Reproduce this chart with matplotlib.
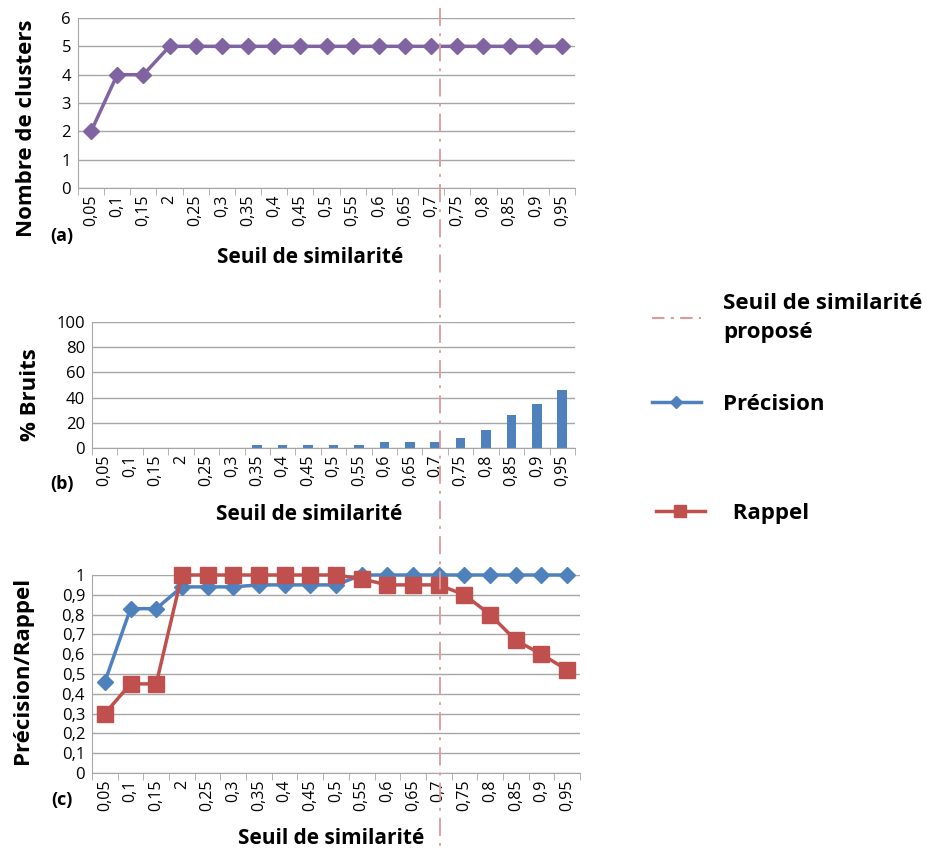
import numpy as np
import matplotlib
matplotlib.use("Agg")
import matplotlib.pyplot as plt
from matplotlib.lines import Line2D

plt.rcParams["font.family"] = ["Open Sans", "DejaVu Sans"]

# ---- données ----
seuils = ["0,05", "0,1", "0,15", "2", "0,25", "0,3", "0,35", "0,4", "0,45", "0,5",
          "0,55", "0,6", "0,65", "0,7", "0,75", "0,8", "0,85", "0,9", "0,95"]
nb_clusters = [2, 4, 4, 5, 5, 5, 5, 5, 5, 5, 5, 5, 5, 5, 5, 5, 5, 5, 5]
bruits = [0, 0, 0, 0, 0, 0, 2, 2, 2, 2, 2, 5, 5, 5, 8, 14, 26, 35, 46]
precision = [0.46, 0.83, 0.83, 0.94, 0.94, 0.94, 0.95, 0.95, 0.95, 0.95,
             1.0, 1.0, 1.0, 1.0, 1.0, 1.0, 1.0, 1.0, 1.0]
rappel = [0.30, 0.45, 0.45, 1.0, 1.0, 1.0, 1.0, 1.0, 1.0, 1.0,
          0.98, 0.95, 0.95, 0.95, 0.90, 0.80, 0.67, 0.60, 0.52]

VIOLET = "#8064A2"
BLEU = "#4F81BD"
ROUGE = "#C0504D"
SEUIL_COL = "#DC9A9A"
GRILLE = "#A6A6A6"

W, H = 940, 855
fig = plt.figure(figsize=(W / 100, H / 100), dpi=100)


def box(l, t, r, b):
    return [l / W, 1 - b / H, (r - l) / W, (b - t) / H]


def style(ax, ylim, yticks, ylabels, ylab, ylab_xy, xlab_xy):
    n = len(seuils)
    x = np.arange(n)
    ax.set_xlim(-0.5, n - 0.5)
    ax.set_ylim(*ylim)
    ax.set_yticks(yticks)
    ax.set_yticklabels(ylabels, fontsize=12)
    ax.set_xticks(x)
    ax.set_xticklabels(seuils, rotation=90, fontsize=11.5)
    ax.set_xticks(np.arange(-0.5, n, 1), minor=True)
    ax.tick_params(axis="x", which="major", length=0, pad=5)
    ax.tick_params(axis="x", which="minor", length=5, color=GRILLE)
    ax.tick_params(axis="y", length=0, pad=5)
    ax.yaxis.grid(True, color=GRILLE, lw=1)
    ax.set_axisbelow(True)
    for s in ("top", "right"):
        ax.spines[s].set_visible(False)
    for s in ("left", "bottom"):
        ax.spines[s].set_color(GRILLE)
    ax.set_ylabel(ylab, fontsize=16, fontweight="bold", va="center")
    ax.yaxis.set_label_coords(*ylab_xy)
    ax.set_xlabel("Seuil de similarité", fontsize=15, fontweight="bold", va="center")
    ax.xaxis.set_label_coords(*xlab_xy)
    return x


# (a) nombre de clusters
ax_a = fig.add_axes(box(78, 18, 575, 188))
x = style(ax_a, (0, 6), range(7), [str(v) for v in range(7)],
          "Nombre de clusters", (-0.103, 0.35), (0.467, -0.406))
ax_a.plot(x, nb_clusters, color=VIOLET, lw=2.5, marker="D", ms=8, clip_on=False)

# (b) % bruits
ax_b = fig.add_axes(box(92, 322, 575, 448))
x = style(ax_b, (0, 100), range(0, 101, 20), [str(v) for v in range(0, 101, 20)],
          "% Bruits", (-0.128, 0.42), (0.45, -0.53))
ax_b.bar(x, bruits, width=0.38, color=BLEU)

# (c) précision / rappel
ax_c = fig.add_axes(box(92, 575, 580, 773))
yt = np.round(np.arange(0, 1.01, 0.1), 1)
x = style(ax_c, (0, 1), yt, [("%g" % v).replace(".", ",") for v in yt],
          "Précision/Rappel", (-0.143, 0.52), (0.49, -0.33))
ax_c.plot(x, precision, color=BLEU, lw=2.5, marker="D", ms=8, clip_on=False)
ax_c.plot(x, rappel, color=ROUGE, lw=2.5, marker="s", ms=11, clip_on=False)

# étiquettes (a) (b) (c)
for tag, ty in (("(a)", 236), ("(b)", 484), ("(c)", 800)):
    fig.text(62 / W, 1 - ty / H, tag, fontsize=13, fontweight="bold",
             ha="center", va="center")

# seuil proposé : trait mixte sur toute la hauteur
fig.add_artist(Line2D([440 / W, 440 / W], [1 - 8 / H, 1 - 850 / H],
                      transform=fig.transFigure, color=SEUIL_COL, lw=1.3,
                      ls=(0, (10, 4, 1.5, 4))))

# légende
leg_kw = dict(frameon=False, prop={"size": 16, "weight": "bold"}, handlelength=2.2,
              handletextpad=1.0, loc="center left")
lg = fig.legend([Line2D([], [], color=SEUIL_COL, lw=1.5, ls=(0, (6, 3, 1.5, 3)))],
                ["Seuil de similarité\nproposé"], bbox_to_anchor=(632 / W, 1 - 318 / H), **leg_kw)
lg.get_texts()[0].set_linespacing(1.5)
fig.legend([Line2D([], [], color=BLEU, lw=2.5, marker="D", ms=6)],
           ["Précision"], bbox_to_anchor=(632 / W, 1 - 404 / H), **leg_kw)
fig.legend([Line2D([], [], color=ROUGE, lw=2.5, marker="s", ms=9)],
           [" Rappel"], bbox_to_anchor=(636 / W, 1 - 513 / H), **leg_kw)

fig.savefig("out.png", dpi=100, facecolor="white")
